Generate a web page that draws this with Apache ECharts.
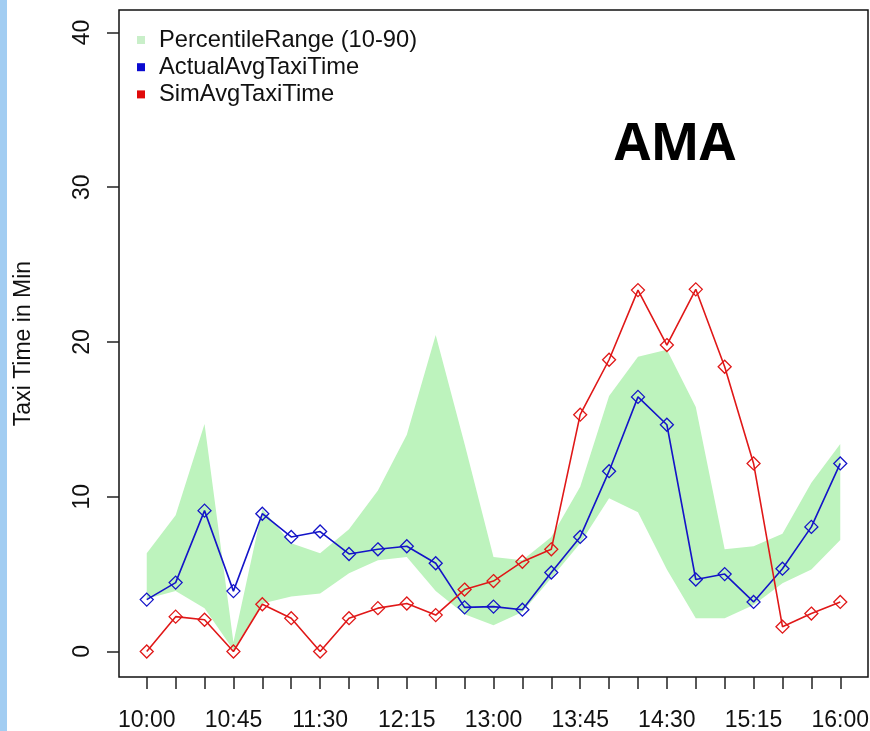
<!DOCTYPE html>
<html>
<head>
<meta charset="utf-8">
<script src="https://cdn.jsdelivr.net/npm/echarts@6/dist/echarts.min.js"></script>
<style>
  html, body { margin: 0; padding: 0; background: #ffffff; }
  #chart { width: 870px; height: 731px; }
</style>
</head>
<body>
<div id="chart"></div>
<script>
// 15-minute slots between 10:00 and 16:00
const times = ['10:00','10:15','10:30','10:45','11:00','11:15','11:30','11:45','12:00','12:15','12:30','12:45',
               '13:00','13:15','13:30','13:45','14:00','14:15','14:30','14:45','15:00','15:15','15:30','15:45','16:00'];

// Average taxi time (minutes) per slot
const actualAvg = [3.35, 4.45, 9.1, 3.9, 8.9, 7.4, 7.75, 6.3, 6.6, 6.8, 5.7, 2.85,
                   2.9, 2.7, 5.1, 7.4, 11.65, 16.45, 14.65, 4.65, 5.0, 3.2, 5.35, 8.05, 12.15];
const simAvg    = [0, 2.25, 2.05, 0, 3.05, 2.15, 0, 2.15, 2.8, 3.1, 2.35, 4.0,
                   4.55, 5.8, 6.6, 15.3, 18.85, 23.35, 19.8, 23.4, 18.4, 12.15, 1.6, 2.45, 3.2];

// 10th and 90th percentile of the actual taxi time
const p10 = [3.4, 3.9, 2.8, 0.1, 3.1, 3.55, 3.75, 5.05, 5.9, 6.1, 3.9, 2.4,
             1.7, 2.55, 4.75, 7.0, 9.9, 9.0, 5.3, 2.15, 2.15, 3.0, 4.4, 5.3, 7.2];
const p90 = [6.35, 8.8, 14.7, 0.6, 9.2, 7.0, 6.35, 7.9, 10.4, 14.0, 20.45, 13.4,
             6.1, 5.9, 7.4, 10.65, 16.5, 19.05, 19.5, 15.8, 6.6, 6.8, 7.6, 10.9, 13.4];

const yTicks = [0, 10, 20, 30, 40];
const xLabelStep = 3;

const BAND = '#bdf3bd';
const BLUE = '#1414c8';
const RED  = '#e01818';
const FONT = '"Liberation Sans", Arial, sans-serif';

const xIdx = times.map((t, i) => i);
const xLabelIdx = xIdx.filter(i => i % xLabelStep === 0);

const chart = echarts.init(document.getElementById('chart'), null, { renderer: 'canvas' });

// Percentile band: one polygon running along p90 and back along p10
function renderBand(params, api) {
  if (params.dataIndex !== 0) return null;
  const upper = xIdx.map(i => api.coord([i, p90[i]]));
  const lower = xIdx.map(i => api.coord([i, p10[i]])).reverse();
  return {
    type: 'polygon',
    shape: { points: upper.concat(lower) },
    style: { fill: BAND, stroke: null },
    silent: true
  };
}

chart.setOption({
  backgroundColor: '#ffffff',
  animation: false,
  textStyle: { fontFamily: FONT },
  grid: {
    left: 119, right: 2, top: 10, bottom: 54,
    outerBoundsMode: 'none',
    containLabel: false,
    show: true, borderColor: '#111', borderWidth: 1.5, backgroundColor: 'transparent'
  },
  legend: {
    orient: 'vertical',
    left: 137, top: 28,
    padding: 0,
    itemGap: 3.2,
    itemWidth: 8, itemHeight: 8,
    icon: 'rect',
    selectedMode: false,
    textStyle: { fontFamily: FONT, fontSize: 23.7, lineHeight: 23, color: '#111', padding: [0, 0, 0, 9] },
    data: [
      { name: 'PercentileRange (10-90)', itemStyle: { color: '#c9efc9', borderWidth: 0 } },
      { name: 'ActualAvgTaxiTime', itemStyle: { color: '#0a0ad0', borderWidth: 0 } },
      { name: 'SimAvgTaxiTime', itemStyle: { color: '#e00a0a', borderWidth: 0 } }
    ]
  },
  xAxis: {
    type: 'value',
    min: -0.96, max: 24.96,
    axisLine: { show: false, onZero: false },
    splitLine: { show: false },
    axisTick: { show: true, length: 12, customValues: xIdx, lineStyle: { color: '#222', width: 1.5 } },
    axisLabel: {
      customValues: xLabelIdx,
      formatter: v => times[Math.round(v)],
      fontSize: 23, color: '#111', margin: 32, fontFamily: FONT
    }
  },
  yAxis: {
    type: 'value',
    min: -1.65, max: 41.45,
    name: 'Taxi Time in Min',
    nameLocation: 'middle',
    nameGap: 84,
    nameTextStyle: { fontSize: 23, color: '#111', fontFamily: FONT },
    axisLine: { show: false, onZero: false },
    splitLine: { show: false },
    axisTick: { show: true, length: 12, customValues: yTicks, lineStyle: { color: '#222', width: 1.5 } },
    axisLabel: {
      customValues: yTicks,
      rotate: 90,
      fontSize: 23, color: '#111', margin: 25, fontFamily: FONT
    }
  },
  graphic: [
    { type: 'rect', left: 0, top: 0, shape: { width: 7, height: 731 }, style: { fill: '#a2cdf2' }, silent: true },
    { type: 'text', x: 675, y: 145, silent: true,
      style: { text: 'AMA', font: 'bold 52px "Open Sans", "Liberation Sans", sans-serif', fill: '#000',
               textAlign: 'center', textVerticalAlign: 'middle' } }
  ],
  series: [
    {
      name: 'PercentileRange (10-90)',
      type: 'custom',
      renderItem: renderBand,
      data: xIdx.map(i => [i, p10[i], p90[i]]),
      encode: { x: 0, y: [1, 2] },
      itemStyle: { color: BAND },
      silent: true,
      z: 1
    },
    {
      name: 'ActualAvgTaxiTime',
      type: 'line',
      data: actualAvg.map((v, i) => [i, v]),
      symbol: 'diamond',
      symbolSize: 13,
      showAllSymbol: true,
      lineStyle: { color: BLUE, width: 1.6 },
      itemStyle: { color: 'rgba(255,255,255,0)', borderColor: BLUE, borderWidth: 1.3 },
      z: 3
    },
    {
      name: 'SimAvgTaxiTime',
      type: 'line',
      data: simAvg.map((v, i) => [i, v]),
      symbol: 'diamond',
      symbolSize: 13,
      showAllSymbol: true,
      lineStyle: { color: RED, width: 1.6 },
      itemStyle: { color: 'rgba(255,255,255,0)', borderColor: RED, borderWidth: 1.3 },
      z: 4
    }
  ]
});
</script>
</body>
</html>
